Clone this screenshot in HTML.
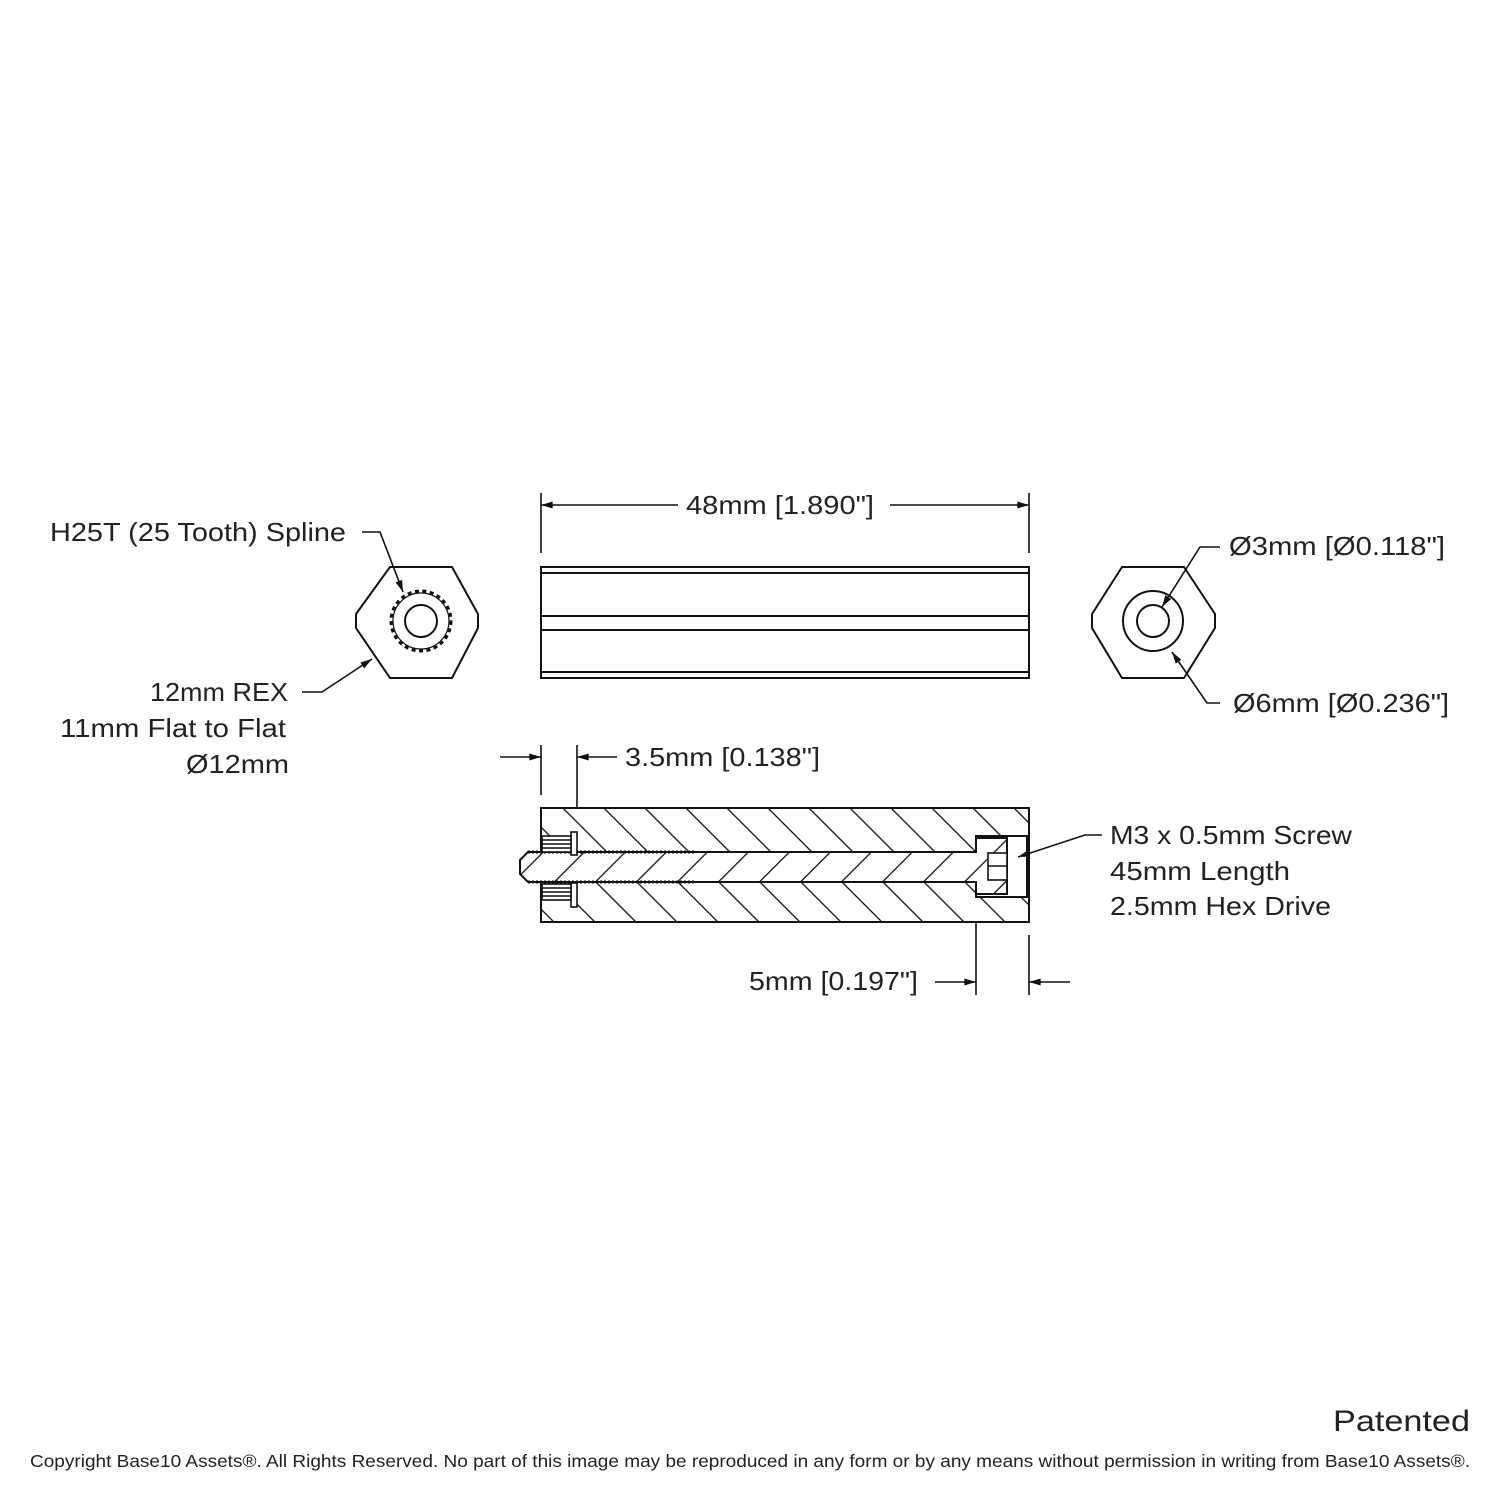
<!DOCTYPE html>
<html><head><meta charset="utf-8"><style>
body{margin:0;background:#fff}
svg{display:block}
text{font-family:"Liberation Sans",sans-serif;fill:#222}
</style></head><body>
<svg width="1500" height="1500" viewBox="0 0 1500 1500" xmlns="http://www.w3.org/2000/svg">
<defs>
<pattern id="hb" patternUnits="userSpaceOnUse" width="29" height="29" patternTransform="rotate(-45)">
<rect width="29" height="29" fill="#fff"/><line x1="0" y1="0" x2="0" y2="29" stroke="#111" stroke-width="2.6"/></pattern>
<pattern id="hs" patternUnits="userSpaceOnUse" width="29" height="29" patternTransform="rotate(45)">
<rect width="29" height="29" fill="#fff"/><line x1="0" y1="0" x2="0" y2="29" stroke="#111" stroke-width="2.6"/></pattern>
<marker id="a" viewBox="0 0 10 6" refX="10" refY="3" markerWidth="18" markerHeight="7" markerUnits="userSpaceOnUse" orient="auto"><path d="M0,0L10,3L0,6z" fill="#111"/></marker>
</defs>
<g stroke="#111" stroke-width="2" fill="none">
<polygon points="390,567 452,567 478,614 478,628 452,678 390,678 356,628 356,614"/>
<circle cx="421" cy="621" r="16"/>
<circle cx="421" cy="621" r="30" stroke-dasharray="4 3.5" stroke-width="3"/>
<circle cx="421" cy="621" r="28" stroke-width="1.2"/>
<polygon points="1122,567 1184,567 1215,614 1215,628 1184,678 1122,678 1092,628 1092,614"/>
<circle cx="1153" cy="621" r="16"/>
<circle cx="1153" cy="621" r="30"/>
<rect x="541" y="567" width="488" height="111"/>
<line x1="541" y1="573" x2="1029" y2="573"/>
<line x1="541" y1="616" x2="1029" y2="616"/>
<line x1="541" y1="630" x2="1029" y2="630"/>
<line x1="541" y1="672" x2="1029" y2="672"/>
<polyline points="362,532 380,532 403,592" marker-end="url(#a)" stroke-width="1.6"/>
<polyline points="302,692 322,692 372,659" marker-end="url(#a)" stroke-width="1.6"/>
<polyline points="1220,547 1200,547 1162,607" marker-end="url(#a)" stroke-width="1.6"/>
<polyline points="1220,703 1207,703 1172,652" marker-end="url(#a)" stroke-width="1.6"/>
<polyline points="1102,835 1085,835 1018,857" marker-end="url(#a)" stroke-width="1.6"/>
<line x1="541" y1="493" x2="541" y2="553" stroke-width="1.6"/>
<line x1="1029" y1="493" x2="1029" y2="553" stroke-width="1.6"/>
<line x1="678" y1="505" x2="541" y2="505" marker-end="url(#a)" stroke-width="1.6"/>
<line x1="890" y1="505" x2="1029" y2="505" marker-end="url(#a)" stroke-width="1.6"/>
<line x1="541" y1="745" x2="541" y2="795" stroke-width="1.6"/>
<line x1="577" y1="745" x2="577" y2="808" stroke-width="1.6"/>
<line x1="500" y1="757" x2="541" y2="757" marker-end="url(#a)" stroke-width="1.6"/>
<line x1="617" y1="757" x2="577" y2="757" marker-end="url(#a)" stroke-width="1.6"/>
<line x1="976" y1="922" x2="976" y2="995" stroke-width="1.6"/>
<line x1="1029" y1="935" x2="1029" y2="995" stroke-width="1.6"/>
<line x1="935" y1="982" x2="976" y2="982" marker-end="url(#a)" stroke-width="1.6"/>
<line x1="1070" y1="982" x2="1029" y2="982" marker-end="url(#a)" stroke-width="1.6"/>
</g>
<path d="M541,808H1029V922H541Z M541,852V882H976V897H1027V836H976V852Z" fill="url(#hb)" fill-rule="evenodd" stroke="#111" stroke-width="2"/>
<path d="M520,860L528,852H976V838H1007V894H976V882H528L520,874Z" fill="url(#hs)" stroke="#111" stroke-width="2"/>
<line x1="528" y1="852" x2="696" y2="852" stroke="#111" stroke-width="3" stroke-dasharray="2 2"/>
<line x1="528" y1="882" x2="696" y2="882" stroke="#111" stroke-width="3" stroke-dasharray="2 2"/>
<g fill="#fff" stroke="#111" stroke-width="1.6">
<rect x="988" y="853" width="19" height="27"/>
<line x1="988" y1="866" x2="1007" y2="866"/>
<rect x="571" y="832" width="6" height="23"/>
<rect x="571" y="883" width="6" height="24"/>
<rect x="542" y="836" width="29" height="16"/>
<rect x="542" y="884" width="29" height="16"/>
</g>
<g stroke="#111" stroke-width="1.5">
<line x1="542" y1="840" x2="571" y2="840"/><line x1="542" y1="844" x2="571" y2="844"/><line x1="542" y1="848" x2="571" y2="848"/>
<line x1="542" y1="888" x2="571" y2="888"/><line x1="542" y1="892" x2="571" y2="892"/><line x1="542" y1="896" x2="571" y2="896"/>
</g>
<g font-size="26" lengthAdjust="spacingAndGlyphs">
<text x="50" y="541" textLength="296" lengthAdjust="spacingAndGlyphs">H25T (25 Tooth) Spline</text>
<text x="150" y="701" textLength="138" lengthAdjust="spacingAndGlyphs">12mm REX</text>
<text x="60" y="737" textLength="226" lengthAdjust="spacingAndGlyphs">11mm Flat to Flat</text>
<text x="186" y="773" textLength="103" lengthAdjust="spacingAndGlyphs">Ø12mm</text>
<text x="686" y="514" textLength="188" lengthAdjust="spacingAndGlyphs">48mm [1.890"]</text>
<text x="1229" y="555" textLength="216" lengthAdjust="spacingAndGlyphs">Ø3mm [Ø0.118"]</text>
<text x="1233" y="712" textLength="216" lengthAdjust="spacingAndGlyphs">Ø6mm [Ø0.236"]</text>
<text x="625" y="766" textLength="195" lengthAdjust="spacingAndGlyphs">3.5mm [0.138"]</text>
<text x="1110" y="844" textLength="242" lengthAdjust="spacingAndGlyphs">M3 x 0.5mm Screw</text>
<text x="1110" y="880" textLength="180" lengthAdjust="spacingAndGlyphs">45mm Length</text>
<text x="1110" y="915" textLength="221" lengthAdjust="spacingAndGlyphs">2.5mm Hex Drive</text>
<text x="749" y="990" textLength="169" lengthAdjust="spacingAndGlyphs">5mm [0.197"]</text>
<text x="1333" y="1431" font-size="30" textLength="137" lengthAdjust="spacingAndGlyphs">Patented</text>
</g>
<text x="30" y="1467" font-size="17.5" textLength="1440" lengthAdjust="spacingAndGlyphs">Copyright Base10 Assets®.  All Rights Reserved. No part of this image may be reproduced in any form or by any means without permission in writing from Base10 Assets®.</text>
</svg>
</body></html>
